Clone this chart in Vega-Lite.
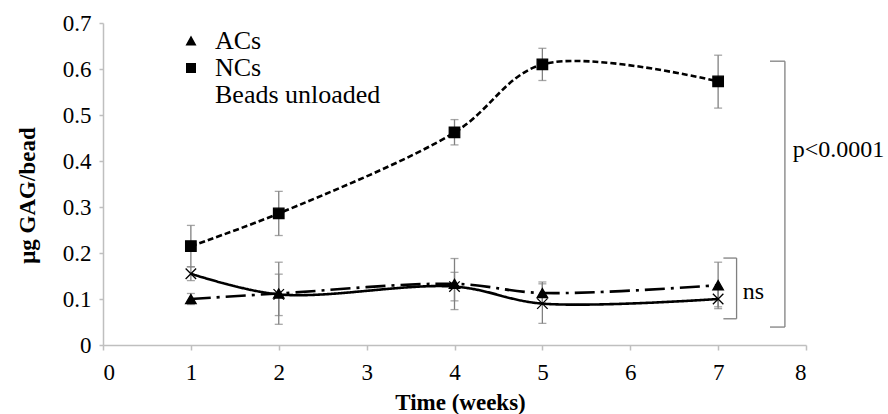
{
  "$schema": "https://vega.github.io/schema/vega-lite/v6.json",
  "width": 703,
  "height": 322,
  "autosize": {"type": "none"},
  "padding": {"left": 103, "top": 23, "right": 82, "bottom": 69},
  "background": "white",
  "config": {
    "view": {"stroke": null},
    "font": "Liberation Serif",
    "axis": {
      "domainColor": "#bfbfbf",
      "tickColor": "#bfbfbf",
      "grid": false,
      "labelFont": "Liberation Serif",
      "labelColor": "#000000",
      "titleFont": "Liberation Serif",
      "titleColor": "#000000",
      "labelFontSize": 23,
      "titleFontSize": 23,
      "titleFontWeight": "bold",
      "domainWidth": 1.5,
      "tickWidth": 1.5
    }
  },
  "resolve": {"scale": {"shape": "independent"}},
  "datasets": {
    "series": [
      {"group": "ACs", "week": 1, "mean": 0.100, "lo": 0.088, "hi": 0.112},
      {"group": "ACs", "week": 2, "mean": 0.112, "lo": 0.045, "hi": 0.180},
      {"group": "ACs", "week": 4, "mean": 0.133, "lo": 0.077, "hi": 0.188},
      {"group": "ACs", "week": 5, "mean": 0.113, "lo": 0.090, "hi": 0.137},
      {"group": "ACs", "week": 7, "mean": 0.130, "lo": 0.083, "hi": 0.180},
      {"group": "NCs", "week": 1, "mean": 0.215, "lo": 0.170, "hi": 0.260},
      {"group": "NCs", "week": 2, "mean": 0.286, "lo": 0.238, "hi": 0.334},
      {"group": "NCs", "week": 4, "mean": 0.462, "lo": 0.435, "hi": 0.490},
      {"group": "NCs", "week": 5, "mean": 0.610, "lo": 0.575, "hi": 0.645},
      {"group": "NCs", "week": 7, "mean": 0.573, "lo": 0.515, "hi": 0.630},
      {"group": "Beads unloaded", "week": 1, "mean": 0.155, "lo": 0.140, "hi": 0.170},
      {"group": "Beads unloaded", "week": 2, "mean": 0.110, "lo": 0.064, "hi": 0.154},
      {"group": "Beads unloaded", "week": 4, "mean": 0.127, "lo": 0.096, "hi": 0.158},
      {"group": "Beads unloaded", "week": 5, "mean": 0.090, "lo": 0.047, "hi": 0.133},
      {"group": "Beads unloaded", "week": 7, "mean": 0.100, "lo": 0.079, "hi": 0.121}
    ],
    "brackets": [
      {"x": 7.76, "y": 0.039, "x2": 7.76, "y2": 0.617},
      {"x": 7.59, "y": 0.617, "x2": 7.76, "y2": 0.617},
      {"x": 7.59, "y": 0.039, "x2": 7.76, "y2": 0.039},
      {"x": 7.21, "y": 0.057, "x2": 7.21, "y2": 0.189},
      {"x": 7.06, "y": 0.189, "x2": 7.21, "y2": 0.189},
      {"x": 7.06, "y": 0.057, "x2": 7.21, "y2": 0.057}
    ],
    "notes": [
      {"x": 7.85, "y": 0.424, "label": "p<0.0001"},
      {"x": 7.28, "y": 0.115, "label": "ns"}
    ]
  },
  "layer": [
    {
      "data": {"name": "series"},
      "mark": {"type": "rule", "color": "#808080", "strokeWidth": 1.3},
      "encoding": {
        "x": {"field": "week", "type": "quantitative", "scale": {"domain": [0, 8], "nice": false},
          "axis": {"values": [0,1,2,3,4,5,6,7,8], "format": "d", "tickSize": 5, "labelPadding": 11, "title": "Time (weeks)", "titleX": 357, "titleY": 57, "titleBaseline": "middle"}},
        "y": {"field": "lo", "type": "quantitative", "scale": {"domain": [0, 0.7], "nice": false},
          "axis": {"values": [0,0.1,0.2,0.3,0.4,0.5,0.6,0.7], "format": "~g", "tickSize": 4, "labelPadding": 8, "title": "μg GAG/bead", "titleX": -76, "titleY": 172, "titleBaseline": "middle"}},
        "y2": {"field": "hi"}
      }
    },
    {
      "data": {"name": "series"},
      "mark": {"type": "tick", "orient": "horizontal", "color": "#808080", "size": 8, "thickness": 1.3},
      "encoding": {
        "x": {"field": "week", "type": "quantitative"},
        "y": {"field": "lo", "type": "quantitative"}
      }
    },
    {
      "data": {"name": "series"},
      "mark": {"type": "tick", "orient": "horizontal", "color": "#808080", "size": 8, "thickness": 1.3},
      "encoding": {
        "x": {"field": "week", "type": "quantitative"},
        "y": {"field": "hi", "type": "quantitative"}
      }
    },
    {
      "data": {"name": "series"},
      "mark": {"type": "line", "interpolate": "catmull-rom", "color": "#000000", "strokeWidth": 2.6},
      "encoding": {
        "x": {"field": "week", "type": "quantitative"},
        "y": {"field": "mean", "type": "quantitative"},
        "strokeDash": {"field": "group", "type": "nominal", "legend": null,
          "scale": {"domain": ["NCs", "ACs", "Beads unloaded"], "range": [[6, 3], [20, 6, 3, 6], [1, 0]]}}
      }
    },
    {
      "data": {"name": "series"},
      "mark": {"type": "point", "filled": true, "fill": "#000000", "stroke": "#000000", "strokeWidth": 1.3, "opacity": 1},
      "encoding": {
        "x": {"field": "week", "type": "quantitative"},
        "y": {"field": "mean", "type": "quantitative"},
        "shape": {"field": "group", "type": "nominal", "legend": null,
          "scale": {"domain": ["NCs", "ACs", "Beads unloaded"], "range": ["square", "triangle-up", "M-1,-1L1,1M-1,1L1,-1"]}},
        "size": {"value": 110}
      }
    },
    {
      "data": {"name": "series"},
      "mark": {"type": "point", "filled": false, "fill": "#000000", "stroke": "#000000", "strokeWidth": 2.2, "opacity": 0},
      "encoding": {
        "x": {"field": "week", "type": "quantitative"},
        "y": {"field": "mean", "type": "quantitative"},
        "shape": {"field": "group", "type": "nominal",
          "scale": {"domain": ["ACs", "NCs", "Beads unloaded"], "range": ["M-1.8,0H1.8M-0.55,0.45L0,-0.55L0.55,0.45Z", "M-1.8,0H1.8M-0.5,-0.5H0.5V0.5H-0.5Z", "M-1.8,0H1.8M-0.4,-0.4L0.4,0.4M-0.4,0.4L0.4,-0.4"]},
          "legend": {
            "title": null, "orient": "none", "legendX": 75, "legendY": 5, "padding": 0,
            "labelFont": "Liberation Serif", "labelFontSize": 26, "labelColor": "#000000", "labelLimit": 400,
            "labelOffset": 11, "rowPadding": 1, "symbolSize": 400,
            "symbolFillColor": "#000000", "symbolStrokeColor": "#000000", "symbolStrokeWidth": 2.2, "symbolOpacity": 1,
            "encode": {
              "symbols": {
                "enter": {
                  "strokeDash": {"signal": "datum.value === 'ACs' ? [20,6,3,6] : datum.value === 'NCs' ? [6,3] : [1,0]"}
                }
              }
            }
          }
        },
        "size": {"value": 110}
      }
    },
    {
      "data": {"name": "brackets"},
      "mark": {"type": "rule", "color": "#808080", "strokeWidth": 1.3},
      "encoding": {
        "x": {"field": "x", "type": "quantitative"},
        "y": {"field": "y", "type": "quantitative"},
        "x2": {"field": "x2"},
        "y2": {"field": "y2"}
      }
    },
    {
      "data": {"name": "notes"},
      "mark": {"type": "text", "align": "left", "baseline": "middle", "font": "Liberation Serif", "fontSize": 24, "color": "#000000"},
      "encoding": {
        "x": {"field": "x", "type": "quantitative"},
        "y": {"field": "y", "type": "quantitative"},
        "text": {"field": "label"}
      }
    }
  ]
}
